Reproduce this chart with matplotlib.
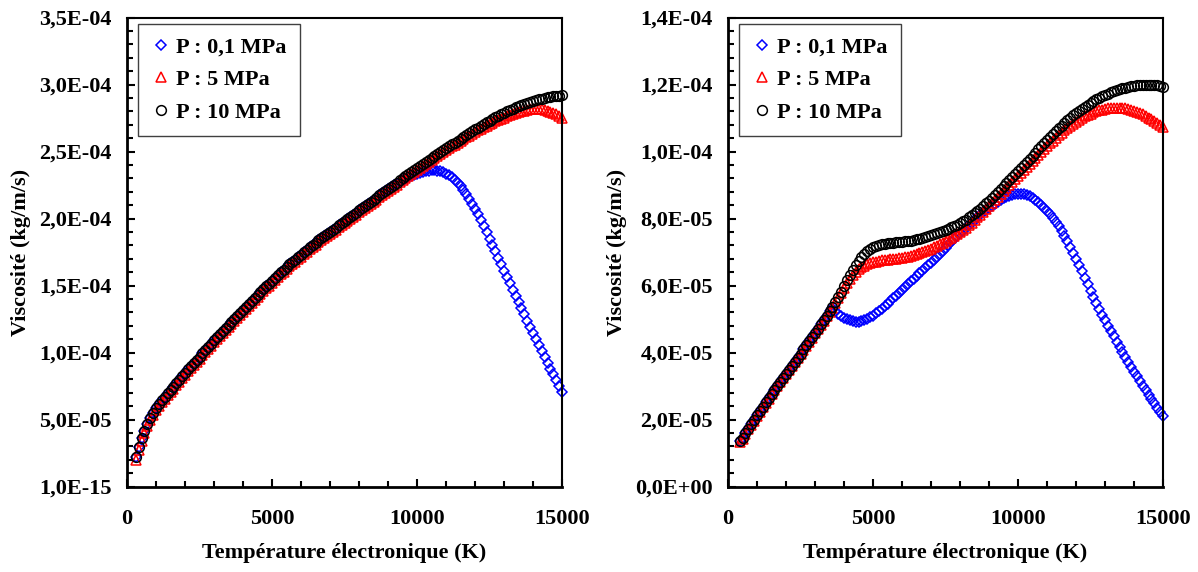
import numpy as np
import matplotlib.pyplot as plt
from matplotlib.ticker import MultipleLocator, FixedLocator, FixedFormatter

plt.rcParams['font.family'] = ['Liberation Serif', 'DejaVu Serif']
plt.rcParams['font.weight'] = 'bold'
plt.rcParams['font.size'] = 16

# temperature grids (K), one point every 100 K
temp_left = np.arange(300, 15001, 100)
temp_right = np.arange(400, 15001, 100)

# left panel, viscosity in 1e-5 kg/m/s
visc_left_01 = [
    2.20, 2.95, 3.60, 4.15, 4.65, 5.10, 5.50, 5.85, 6.15, 6.45,
    6.70, 6.95, 7.20, 7.46, 7.72, 7.98, 8.24, 8.50, 8.74, 8.98,
    9.22, 9.46, 9.70, 9.94, 10.18, 10.42, 10.66, 10.90, 11.13, 11.36,
    11.59, 11.82, 12.05, 12.28, 12.51, 12.74, 12.97, 13.20, 13.42, 13.64,
    13.86, 14.08, 14.30, 14.51, 14.72, 14.93, 15.14, 15.35, 15.56, 15.77,
    15.98, 16.19, 16.40, 16.58, 16.76, 16.94, 17.12, 17.30, 17.48, 17.66,
    17.84, 18.02, 18.20, 18.36, 18.52, 18.68, 18.84, 19.00, 19.16, 19.32,
    19.48, 19.64, 19.80, 19.96, 20.12, 20.28, 20.44, 20.60, 20.76, 20.92,
    21.08, 21.24, 21.40, 21.56, 21.72, 21.88, 22.04, 22.20, 22.34, 22.48,
    22.61, 22.74, 22.86, 22.97, 23.08, 23.18, 23.27, 23.35, 23.42, 23.48,
    23.53, 23.57, 23.60, 23.60, 23.58, 23.53, 23.45, 23.35, 23.22, 23.06,
    22.87, 22.65, 22.40, 22.12, 21.81, 21.47, 21.10, 20.70, 20.30, 19.88,
    19.44, 18.98, 18.50, 18.02, 17.54, 17.06, 16.58, 16.10, 15.63, 15.16,
    14.69, 14.22, 13.76, 13.30, 12.84, 12.38, 11.93, 11.48, 11.03, 10.58,
    10.13, 9.68, 9.24, 8.80, 8.36, 7.92, 7.48, 7.05]
visc_left_5 = [
    2.00, 2.75, 3.42, 3.98, 4.49, 4.94, 5.35, 5.70, 6.00, 6.30,
    6.55, 6.80, 7.05, 7.31, 7.57, 7.83, 8.09, 8.35, 8.59, 8.83,
    9.07, 9.31, 9.55, 9.79, 10.03, 10.27, 10.51, 10.75, 10.98, 11.21,
    11.44, 11.67, 11.90, 12.13, 12.36, 12.59, 12.82, 13.05, 13.27, 13.49,
    13.71, 13.93, 14.15, 14.36, 14.57, 14.78, 14.99, 15.20, 15.41, 15.62,
    15.83, 16.04, 16.25, 16.43, 16.61, 16.79, 16.97, 17.15, 17.33, 17.51,
    17.69, 17.87, 18.05, 18.21, 18.37, 18.53, 18.69, 18.85, 19.01, 19.17,
    19.33, 19.49, 19.65, 19.81, 19.97, 20.13, 20.29, 20.45, 20.61, 20.77,
    20.93, 21.09, 21.25, 21.41, 21.57, 21.73, 21.89, 22.05, 22.21, 22.37,
    22.53, 22.69, 22.85, 23.00, 23.15, 23.30, 23.45, 23.60, 23.75, 23.90,
    24.05, 24.20, 24.35, 24.50, 24.65, 24.80, 24.95, 25.10, 25.24, 25.38,
    25.52, 25.66, 25.80, 25.93, 26.06, 26.19, 26.32, 26.45, 26.57, 26.69,
    26.81, 26.92, 27.03, 27.14, 27.24, 27.34, 27.44, 27.53, 27.62, 27.70,
    27.78, 27.86, 27.93, 27.99, 28.05, 28.10, 28.14, 28.17, 28.18, 28.17,
    28.14, 28.10, 28.04, 27.96, 27.87, 27.77, 27.65, 27.52]
visc_left_10 = [
    2.20, 2.95, 3.60, 4.15, 4.65, 5.10, 5.50, 5.85, 6.15, 6.45,
    6.70, 6.95, 7.20, 7.46, 7.72, 7.98, 8.24, 8.50, 8.74, 8.98,
    9.22, 9.46, 9.70, 9.94, 10.18, 10.42, 10.66, 10.90, 11.13, 11.36,
    11.59, 11.82, 12.05, 12.28, 12.51, 12.74, 12.97, 13.20, 13.42, 13.64,
    13.86, 14.08, 14.30, 14.51, 14.72, 14.93, 15.14, 15.35, 15.56, 15.77,
    15.98, 16.19, 16.40, 16.58, 16.76, 16.94, 17.12, 17.30, 17.48, 17.66,
    17.84, 18.02, 18.20, 18.36, 18.52, 18.68, 18.84, 19.00, 19.16, 19.32,
    19.48, 19.64, 19.80, 19.96, 20.12, 20.28, 20.44, 20.60, 20.76, 20.92,
    21.08, 21.24, 21.40, 21.56, 21.72, 21.88, 22.04, 22.20, 22.36, 22.52,
    22.68, 22.84, 23.00, 23.15, 23.30, 23.45, 23.60, 23.75, 23.90, 24.05,
    24.20, 24.35, 24.50, 24.65, 24.80, 24.95, 25.10, 25.25, 25.39, 25.53,
    25.67, 25.81, 25.95, 26.09, 26.23, 26.37, 26.51, 26.65, 26.78, 26.91,
    27.04, 27.17, 27.30, 27.42, 27.54, 27.66, 27.78, 27.90, 28.00, 28.10,
    28.20, 28.30, 28.40, 28.48, 28.56, 28.64, 28.72, 28.80, 28.85, 28.90,
    28.95, 29.00, 29.05, 29.08, 29.11, 29.14, 29.17, 29.20]

# right panel, viscosity in 1e-6 kg/m/s
visc_right_01 = [
    13.6, 14.5, 15.9, 17.3, 18.6, 19.9, 21.2, 22.5, 23.8, 25.1,
    26.4, 27.7, 28.9, 30.1, 31.3, 32.5, 33.7, 34.9, 36.1, 37.3,
    38.5, 39.7, 40.9, 42.1, 43.3, 44.6, 45.9, 47.1, 48.4, 49.7,
    51.0, 52.3, 53.2, 52.4, 51.6, 51.0, 50.4, 50.0, 49.6, 49.3,
    49.2, 49.2, 49.3, 49.6, 50.0, 50.5, 51.0, 51.7, 52.4, 53.1,
    53.8, 54.6, 55.4, 56.2, 57.0, 57.9, 58.8, 59.6, 60.4, 61.2,
    62.0, 62.8, 63.6, 64.4, 65.2, 66.0, 66.8, 67.6, 68.5, 69.4,
    70.3, 71.2, 72.1, 73.0, 73.9, 74.8, 75.6, 76.4, 77.2, 78.0,
    78.8, 79.6, 80.4, 81.1, 81.8, 82.5, 83.2, 83.8, 84.4, 85.0,
    85.5, 86.0, 86.4, 86.8, 87.1, 87.3, 87.4, 87.4, 87.3, 87.0,
    86.6, 86.1, 85.5, 84.8, 84.0, 83.2, 82.3, 81.3, 80.2, 79.0,
    77.7, 76.3, 74.8, 73.2, 71.5, 69.8, 68.0, 66.1, 64.2, 62.3,
    60.4, 58.5, 56.7, 54.9, 53.1, 51.3, 49.6, 48.0, 46.4, 44.8,
    43.2, 41.7, 40.2, 38.7, 37.2, 35.7, 34.3, 32.9, 31.5, 30.1,
    28.7, 27.4, 26.1, 24.8, 23.5, 22.2, 20.9]
visc_right_5 = [
    13.4, 14.3, 15.7, 17.1, 18.4, 19.7, 21.0, 22.3, 23.6, 24.9,
    26.2, 27.5, 28.7, 29.9, 31.1, 32.3, 33.5, 34.7, 35.9, 37.1,
    38.3, 39.5, 40.7, 41.9, 43.1, 44.4, 45.7, 46.9, 48.2, 49.5,
    50.8, 52.1, 53.4, 54.8, 56.2, 57.7, 59.2, 60.6, 61.9, 63.0,
    64.0, 64.8, 65.4, 65.9, 66.3, 66.6, 66.9, 67.1, 67.3, 67.5,
    67.6, 67.7, 67.8, 67.9, 68.0, 68.1, 68.2, 68.4, 68.6, 68.8,
    69.0, 69.3, 69.6, 69.9, 70.2, 70.6, 71.0, 71.4, 71.8, 72.3,
    72.8, 73.3, 73.8, 74.3, 74.8, 75.4, 76.0, 76.6, 77.3, 78.0,
    78.7, 79.5, 80.3, 81.1, 82.0, 82.9, 83.8, 84.7, 85.6, 86.5,
    87.4, 88.3, 89.2, 90.1, 91.0, 91.9, 92.8, 93.7, 94.6, 95.5,
    96.4, 97.3, 98.2, 99.1, 100.0, 100.8, 101.6, 102.4, 103.2, 104.0,
    104.8, 105.6, 106.3, 107.0, 107.7, 108.3, 108.9, 109.5, 110.0, 110.5,
    110.9, 111.3, 111.7, 112.0, 112.3, 112.5, 112.7, 112.9, 113.0, 113.1,
    113.1, 113.1, 113.0, 112.9, 112.7, 112.5, 112.2, 111.9, 111.5, 111.1,
    110.6, 110.1, 109.6, 109.1, 108.5, 107.9, 107.3]
visc_right_10 = [
    13.6, 14.5, 15.9, 17.3, 18.6, 19.9, 21.2, 22.5, 23.8, 25.1,
    26.4, 27.7, 28.9, 30.1, 31.3, 32.5, 33.7, 34.9, 36.1, 37.3,
    38.5, 39.7, 40.9, 42.1, 43.3, 44.6, 45.9, 47.1, 48.4, 49.7,
    51.0, 52.3, 53.6, 55.0, 56.5, 58.1, 59.8, 61.5, 63.1, 64.6,
    66.0, 67.3, 68.5, 69.5, 70.3, 70.9, 71.4, 71.8, 72.1, 72.3,
    72.5, 72.6, 72.7, 72.8, 72.9, 73.0, 73.1, 73.2, 73.3, 73.4,
    73.6, 73.8, 74.0, 74.2, 74.4, 74.7, 75.0, 75.3, 75.6, 75.9,
    76.2, 76.6, 77.0, 77.4, 77.8, 78.2, 78.7, 79.2, 79.7, 80.3,
    80.9, 81.5, 82.2, 82.9, 83.7, 84.5, 85.3, 86.2, 87.1, 88.0,
    88.9, 89.8, 90.7, 91.6, 92.5, 93.4, 94.3, 95.2, 96.1, 97.0,
    97.9, 98.8, 99.7, 100.6, 101.5, 102.4, 103.3, 104.2, 105.1, 106.0,
    106.9, 107.7, 108.5, 109.3, 110.1, 110.8, 111.5, 112.2, 112.8, 113.4,
    114.0, 114.6, 115.1, 115.6, 116.1, 116.5, 116.9, 117.3, 117.7, 118.0,
    118.3, 118.6, 118.9, 119.1, 119.3, 119.5, 119.7, 119.8, 119.9, 120.0,
    120.0, 120.0, 120.0, 119.9, 119.8, 119.6, 119.4]

labels = ['P : 0,1 MPa', 'P : 5 MPa', 'P : 10 MPa']
colors = ['#0000FF', '#FF0000', '#000000']
markers = ['D', '^', 'o']
sizes = [5.5, 7, 7]

yticks_left = [1e-15, 5e-5, 1e-4, 1.5e-4, 2e-4, 2.5e-4, 3e-4, 3.5e-4]
ylabels_left = ['1,0E-15', '5,0E-05', '1,0E-04', '1,5E-04', '2,0E-04',
                '2,5E-04', '3,0E-04', '3,5E-04']
yticks_right = [0, 2e-5, 4e-5, 6e-5, 8e-5, 1e-4, 1.2e-4, 1.4e-4]
ylabels_right = ['0,0E+00', '2,0E-05', '4,0E-05', '6,0E-05', '8,0E-05',
                 '1,0E-04', '1,2E-04', '1,4E-04']

fig = plt.figure(figsize=(11.98, 5.72), dpi=100)
ax1 = fig.add_axes([127 / 1198, 1 - 486.5 / 572, 435 / 1198, 469 / 572])
ax2 = fig.add_axes([728 / 1198, 1 - 486.5 / 572, 435 / 1198, 469 / 572])

left_series = [np.array(visc_left_01) * 1e-5, np.array(visc_left_5) * 1e-5,
               np.array(visc_left_10) * 1e-5]
right_series = [np.array(visc_right_01) * 1e-6, np.array(visc_right_5) * 1e-6,
                np.array(visc_right_10) * 1e-6]

for ax, temps, series, yt, yl, ymin, ymax, yminor in [
        (ax1, temp_left, left_series, yticks_left, ylabels_left, 1e-15, 3.5e-4, 1e-5),
        (ax2, temp_right, right_series, yticks_right, ylabels_right, 0, 1.4e-4, 4e-6)]:
    for vals, lab, c, m, s in zip(series, labels, colors, markers, sizes):
        ax.plot(temps, vals, ls='none', marker=m, ms=s, mfc='none', mec=c,
                mew=1.1, label=lab, clip_on=False)
    ax.set_xlim(0, 15000)
    ax.set_ylim(ymin, ymax)
    ax.xaxis.set_major_locator(MultipleLocator(5000))
    ax.xaxis.set_minor_locator(MultipleLocator(1000))
    ax.yaxis.set_major_locator(FixedLocator(yt))
    ax.yaxis.set_major_formatter(FixedFormatter(yl))
    ax.yaxis.set_minor_locator(MultipleLocator(yminor))
    ax.tick_params(which='both', direction='in', width=1.5, top=False, right=False)
    ax.tick_params(which='major', length=6)
    ax.tick_params(which='minor', length=4)
    ax.tick_params(axis='y', pad=11)
    ax.tick_params(axis='x', pad=16)
    for t in ax.get_xticklabels() + ax.get_yticklabels():
        t.set_fontweight('bold')
    ax.spines['left'].set_linewidth(2.0)
    ax.spines['bottom'].set_linewidth(2.0)
    ax.spines['top'].set_linewidth(1.5)
    ax.spines['right'].set_linewidth(1.5)
    ax.set_xlabel('Température électronique (K)', fontweight='bold', labelpad=10)
    ax.set_ylabel('Viscosité (kg/m/s)', fontweight='bold', labelpad=6)
    leg = ax.legend(loc='upper left', bbox_to_anchor=(0.026, 0.987),
                    borderaxespad=0, frameon=True, fancybox=False,
                    edgecolor='#404040', framealpha=1, handlelength=0.8,
                    handletextpad=0.3, labelspacing=0.55, borderpad=0.6,
                    prop={'weight': 'bold', 'size': 16})
    leg.get_frame().set_linewidth(1.0)

fig.savefig('out.png', dpi=100)
